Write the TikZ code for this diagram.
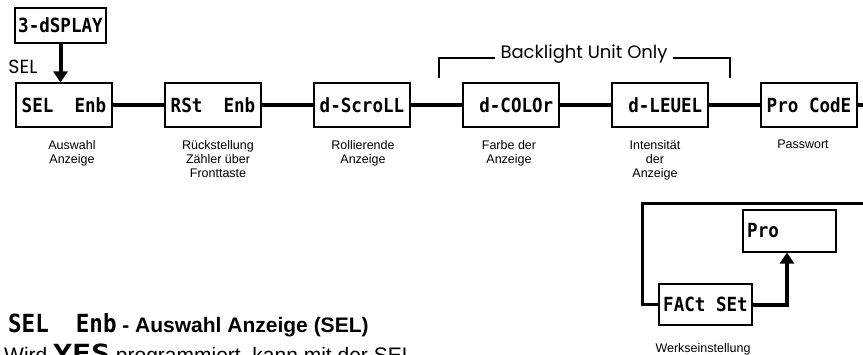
\documentclass[tikz,border=0pt]{standalone}
\usepackage{fontspec}
\usepackage{graphicx}
\setmainfont{Liberation Sans}
\newfontfamily\lcdfont[FakeStretch=0.9]{DejaVu Sans Mono}
\newfontfamily\roundfont{Poppins}
\usepackage{tikz}
\usetikzlibrary{arrows.meta}

\begin{document}
\begin{tikzpicture}[x=1pt,y=-1pt,
	disp/.style={draw,line width=1.1pt,minimum width=96pt,minimum height=44pt,inner sep=0pt,font=\lcdfont\bfseries\fontsize{19.5}{20}\selectfont},
	lab/.style={align=center,anchor=north,inner sep=0pt,font=\fontsize{12.5}{14}\selectfont},
	chain/.style={line width=4pt},
	back/.style={line width=3pt},
	bigarrow/.style={line width=4pt,-{Triangle[width=14pt,length=11pt]}},
	bracket/.style={line width=1.2pt}]
	
		\useasboundingbox (0,0) rectangle (863,354);
		
		\node[disp,minimum width=91pt,minimum height=35pt] (dsp) at (60.5,25.5) {3-dSPLAY};
		\node[font=\roundfont\fontsize{19}{19}\selectfont,inner sep=0pt] (sel-key) at (23,67) {SEL};
		
		\foreach \n/\x/\t/\lx/\l in {sel/64/{SEL~~Enb}/72/{Auswahl\\Anzeige},
			rst/213/{RSt~~Enb}/218/{Rückstellung\\Zähler über\\Fronttaste},
			scroll/362/{d-ScroLL}/363/{Rollierende\\Anzeige},
			color/511/{\hphantom{0}d-COLOr}/509/{Farbe der\\Anzeige},
			level/660/{\hphantom{0}d-LEUEL}/655/{Intensität\\der\\Anzeige},
			code/809/{Pro~CodE}/803/{Passwort}} {
		\node[disp] (\n) at (\x,105) {\t};
		\node[lab] (\n-lab) at (\lx,140) {\l};
		}
		
		\foreach \a/\b in {sel/rst,rst/scroll,scroll/color,color/level,level/code}
		\draw[chain] (\a) -- (\b);
		\coordinate (edge) at (863,105);
		\draw[chain] (code) -- (edge);
		
		\draw[bigarrow] (dsp.south) -- (dsp.south |- sel.north);
		
		\node[font=\roundfont\fontsize{18}{18}\selectfont,inner sep=5pt] (light) at (584,54) {Backlight Unit Only};
		\coordinate (light-l) at (439,78);
		\coordinate (light-r) at (730,78);
		\draw[bracket] ([yshift=-4pt]light.west) -| (light-l);
		\draw[bracket] ([yshift=-4pt]light.east) -| (light-r);
		
		\node[disp,minimum width=93pt,minimum height=42pt] (pro) at (789.5,231) {Pro\hphantom{00000}};
		\node[disp,minimum width=93pt,minimum height=41pt] (fact) at (705.5,304.5) {FACt~SEt};
		\coordinate (loop-end) at (863,203);
		\draw[back] (fact.west) -- ++(-16,0) |- (loop-end);
		\draw[bigarrow] (fact.east) -| ([xshift=-2.5pt]pro.south);
		\node[lab,anchor=base] (fact-lab) at (703,352) {Werkseinstellung};
		
		\node[anchor=base west,inner sep=0pt] (head) at (8,332) {{\lcdfont\bfseries\fontsize{25}{25}\selectfont SEL~~Enb}\fontsize{21}{24}\selectfont\bfseries\ - Auswahl Anzeige (SEL)};
		\node[anchor=base west,inner sep=0pt] (wird) at (4,362) {\fontsize{21}{24}\selectfont Wird {\lcdfont\bfseries\fontsize{25}{25}\selectfont\scalebox{1.4}[1]{YES}} programmiert, kann mit der SEL -};
	\end{tikzpicture}
\end{document}
